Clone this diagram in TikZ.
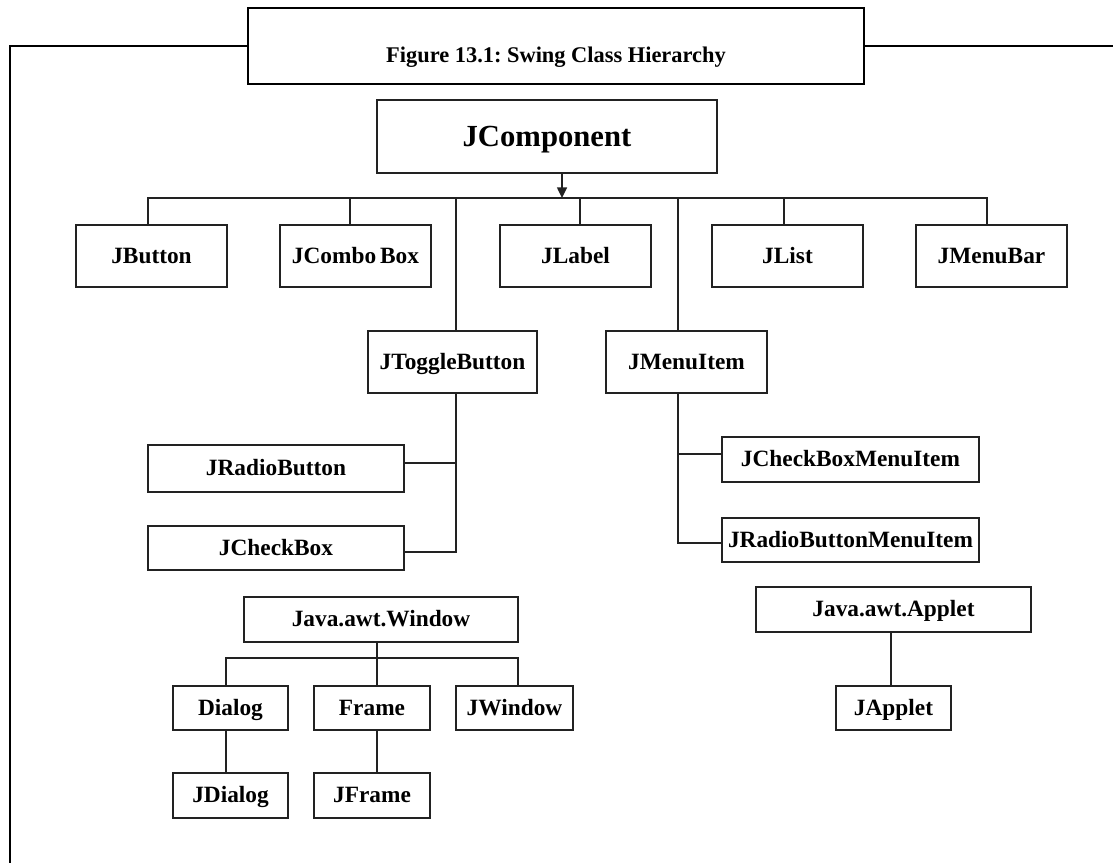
\documentclass[tikz,border=0pt]{standalone}
\usepackage{fontspec}
\setmainfont{Liberation Serif}
\usetikzlibrary{arrows.meta,calc}
\definecolor{boxline}{HTML}{222222}
\frenchspacing
\begin{document}
\begin{tikzpicture}[x=0.75pt,y=-0.75pt,
  sz/.style n args={2}{minimum width=#1*0.75pt, minimum height=#2*0.75pt},
  cls/.style={draw=boxline, line width=1.1pt, fill=white, inner sep=0pt,
    font=\bfseries\fontsize{17.5}{20}\selectfont, text height=11.6pt, text depth=0.4pt},
  rootcls/.style={cls, font=\bfseries\fontsize{23}{26}\selectfont,
    text height=15.2pt, text depth=0.5pt},
  titlebox/.style={draw=black, line width=1.6pt, inner sep=0pt},
  titletext/.style={inner sep=0pt, font=\bfseries\fontsize{16.8}{19}\selectfont,
    text height=11.1pt, text depth=0.4pt},
  frameline/.style={draw=black, line width=1.6pt},
  conn/.style={draw=boxline, line width=1.1pt},
  inherit/.style={conn, -{Triangle[width=7.5pt,length=8pt]}}]

\useasboundingbox (0,0) rectangle (1113,863);

% caption box and the outer frame hanging from it
\node[titlebox, sz={616}{76}] (title) at (556,46) {};
\node[titletext] (titlelabel) at ($(title.center)+(0,9)$) {Figure 13.1: Swing Class Hierarchy};
\coordinate (fTL) at (10,46);
\coordinate (fBL) at (10,863);
\coordinate (fTR) at (1113,46);
\draw[frameline] (title.west) -- (fTL) -- (fBL);
\draw[frameline] (title.east) -- (fTR);

% root and first level
\node[rootcls, sz={340}{73}] (jcomp) at (547,136.5) {JComponent};
\node[cls, sz={151}{62}] (jbutton)  at (151.5,256) {JButton};
\node[cls, sz={151}{62}] (jcombo)   at (355.5,256) {JCombo\,Box};
\node[cls, sz={151}{62}] (jlabel)   at (575.5,256) {JLabel};
\node[cls, sz={151}{62}] (jlist)    at (787.5,256) {JList};
\node[cls, sz={151}{62}] (jmenubar) at (991.5,256) {JMenuBar};

\node[cls, sz={169}{62}] (jtoggle)   at (452.5,362) {JToggleButton};
\node[cls, sz={161}{62}] (jmenuitem) at (686.5,362) {JMenuItem};

\node[cls, sz={256}{47}] (jradio) at (276,468.5) {JRadioButton};
\node[cls, sz={256}{44}] (jcheck) at (276,548)   {JCheckBox};

\node[cls, sz={257}{45}] (jcbmi) at (850.5,459.5) {JCheckBoxMenuItem};
\node[cls, sz={257}{44}] (jrbmi) at (850.5,540)   {JRadioButtonMenuItem};

% window branch
\node[cls, sz={274}{45}] (awtwin)  at (381,619.5) {Java.awt.Window};
\node[cls, sz={115}{44}] (dialog)  at (230.5,708) {Dialog};
\node[cls, sz={116}{44}] (frame)   at (372,708)   {Frame};
\node[cls, sz={117}{44}] (jwindow) at (514.5,708) {JWindow};
\node[cls, sz={115}{45}] (jdialog) at (230.5,795.5) {JDialog};
\node[cls, sz={116}{45}] (jframe)  at (372,795.5)   {JFrame};

% applet branch
\node[cls, sz={275}{45}] (awtapplet) at (893.5,609.5) {Java.awt.Applet};
\node[cls, sz={115}{44}] (japplet)   at (893.5,708)   {JApplet};

% main bus under JComponent
\coordinate (b1) at (148,198);
\coordinate (b2) at (350,198);
\coordinate (b3) at (580,198);
\coordinate (b4) at (784,198);
\coordinate (b5) at (987,198);
\coordinate (barrow) at (562,198);
\coordinate (tspine) at (456,198);
\coordinate (mspine) at (678,198);

\draw[inherit] (barrow |- jcomp.south) -- (barrow);
\draw[conn] (b1 |- jbutton.north) -- (b1) -- (b5) -- (b5 |- jmenubar.north);
\draw[conn] (b2) -- (b2 |- jcombo.north);
\draw[conn] (b3) -- (b3 |- jlabel.north);
\draw[conn] (b4) -- (b4 |- jlist.north);
\draw[conn] (tspine) -- (tspine |- jtoggle.north);
\draw[conn] (mspine) -- (mspine |- jmenuitem.north);

% JToggleButton subclasses
\draw[conn] (tspine |- jtoggle.south) -- (tspine |- {$(jcheck.east)+(0,4)$}) -- ($(jcheck.east)+(0,4)$);
\draw[conn] ($(jradio.east)+(0,-5.5)$) -- (tspine |- {$(jradio.east)+(0,-5.5)$});

% JMenuItem subclasses
\draw[conn] (mspine |- jmenuitem.south) -- (mspine |- {$(jrbmi.west)+(0,3)$}) -- ($(jrbmi.west)+(0,3)$);
\draw[conn] (mspine |- {$(jcbmi.west)+(0,-5.5)$}) -- ($(jcbmi.west)+(0,-5.5)$);

% window hierarchy
\coordinate (wL) at (226,658);
\coordinate (wM) at (377,658);
\coordinate (wR) at (518,658);
\draw[conn] (wM |- awtwin.south) -- (wM);
\draw[conn] (wL |- dialog.north) -- (wL) -- (wR) -- (wR |- jwindow.north);
\draw[conn] (wM) -- (wM |- frame.north);
\draw[conn] (wL |- dialog.south) -- (wL |- jdialog.north);
\draw[conn] (wM |- frame.south) -- (wM |- jframe.north);

% applet hierarchy
\coordinate (aspine) at (891,650);
\draw[conn] (aspine |- awtapplet.south) -- (aspine |- japplet.north);
\end{tikzpicture}
\end{document}
